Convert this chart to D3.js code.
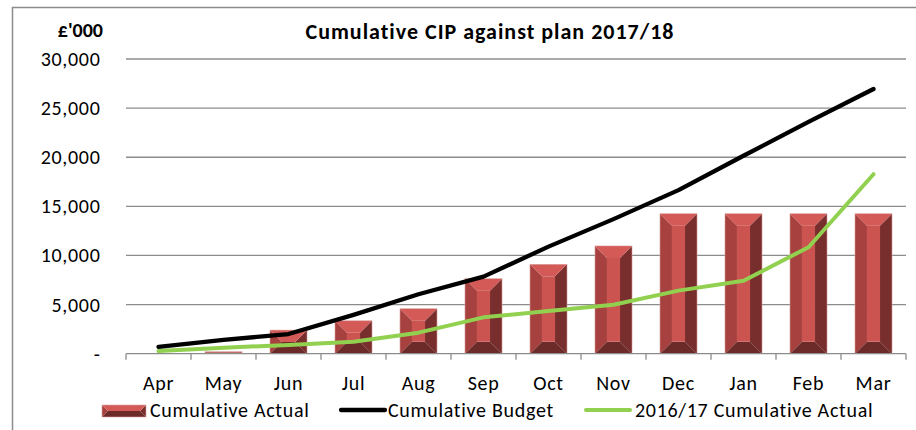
<!DOCTYPE html>
<html>
<head>
<meta charset="utf-8">
<script src="https://cdn.jsdelivr.net/npm/d3@7"></script>
<style>
  html, body { margin: 0; padding: 0; background: #fff; }
  svg { display: block; font-family: Carlito, Lato, "Liberation Sans", sans-serif; }
  .lbl { font-size: 20px; letter-spacing: 0.7px; }
</style>
</head>
<body>
<svg id="chart" width="916" height="430"></svg>
<script>
// Months of the financial year
const months = ["Apr","May","Jun","Jul","Aug","Sep","Oct","Nov","Dec","Jan","Feb","Mar"];
// Cumulative actual CIP delivered (£'000)
const cumulativeActual = [40, 200, 2400, 3350, 4580, 7640, 9100, 10970, 14250, 14250, 14250, 14250];
// Cumulative budget (£'000)
const cumulativeBudget = [700, 1400, 2000, 3950, 6050, 7850, 10900, 13700, 16650, 20150, 23600, 26950];
// Prior year cumulative actual (£'000)
const priorYearActual = [270, 610, 890, 1220, 2140, 3700, 4350, 4980, 6420, 7430, 10840, 18270];
// Value axis ticks
const yTicks = [0, 5000, 10000, 15000, 20000, 25000, 30000];

const svg = d3.select("#chart");

// Outer chart border
svg.append("path")
  .attr("d", "M12.5,440 V7.5 H920")
  .attr("fill", "none").attr("stroke", "#8c8c8c").attr("stroke-width", 1.5);

const x = d3.scaleBand().domain(months).range([126, 906]).paddingInner(0.43).paddingOuter(0.215);
const y = d3.scaleLinear().domain([0, 30000]).range([353.7, 59]);

// Gridlines
svg.append("g").selectAll("line").data(yTicks.filter(d => d > 0)).join("line")
  .attr("x1", 126).attr("x2", 906)
  .attr("y1", d => y(d)).attr("y2", d => y(d))
  .attr("stroke", "#8c8c8c").attr("stroke-width", 1.3);

// Y axis labels
const fmt = d3.format(",");
svg.append("g").selectAll("text").data(yTicks).join("text")
  .attr("class", "lbl")
  .attr("x", 100.5).attr("y", d => y(d))
  .attr("dy", "0.35em")
  .attr("text-anchor", "end")
  .attr("fill", "#000")
  .text(d => d === 0 ? "-" : fmt(d));

// Unit label
svg.append("text").attr("x", 103).attr("y", 30).attr("dy", "0.35em")
  .attr("text-anchor", "end").attr("font-weight", "bold").attr("font-size", 20)
  .text("£'000");

// Title
svg.append("text").attr("x", 490).attr("y", 31).attr("dy", "0.35em")
  .attr("text-anchor", "middle").attr("font-weight", "bold").attr("font-size", 22)
  .attr("letter-spacing", "1px")
  .text("Cumulative CIP against plan 2017/18");

// Bevelled bar drawn as five facets
const facetColors = { top: "#d35a57", left: "#a7413f", right: "#782e2d", bottom: "#6c2a29", face: "#cb5350" };
function bevel(g, x0, y0, w, h, b) {
  const bb = Math.min(b, h / 2, w / 2);
  const x1 = x0 + w, y1 = y0 + h;
  const pts = {
    top: [[x0, y0], [x1, y0], [x1 - bb, y0 + bb], [x0 + bb, y0 + bb]],
    bottom: [[x0, y1], [x1, y1], [x1 - bb, y1 - bb], [x0 + bb, y1 - bb]],
    left: [[x0, y0], [x0 + bb, y0 + bb], [x0 + bb, y1 - bb], [x0, y1]],
    right: [[x1, y0], [x1 - bb, y0 + bb], [x1 - bb, y1 - bb], [x1, y1]]
  };
  ["left", "right", "top", "bottom"].forEach(k => {
    g.append("polygon").attr("points", pts[k].map(p => p.join(",")).join(" ")).attr("fill", facetColors[k]);
  });
  if (w - 2 * bb > 0 && h - 2 * bb > 0) {
    g.append("rect").attr("x", x0 + bb).attr("y", y0 + bb)
      .attr("width", w - 2 * bb).attr("height", h - 2 * bb).attr("fill", facetColors.face);
  }
  g.append("rect").attr("x", x0).attr("y", y0).attr("width", w).attr("height", h)
    .attr("fill", "none").attr("stroke", "#dba3a2").attr("stroke-width", 0.6);
}

const bars = svg.append("g");
months.forEach((m, i) => {
  const v = cumulativeActual[i];
  const g = bars.append("g");
  bevel(g, x(m), y(v), x.bandwidth(), y(0) - y(v), 12);
});

// X axis line and ticks
svg.append("line").attr("x1", 126).attr("x2", 906).attr("y1", y(0)).attr("y2", y(0))
  .attr("stroke", "#8c8c8c").attr("stroke-width", 1.3);
const step = x.step();
svg.append("g").selectAll("line").data(d3.range(months.length + 1)).join("line")
  .attr("x1", i => 126 + i * step).attr("x2", i => 126 + i * step)
  .attr("y1", y(0)).attr("y2", y(0) + 6)
  .attr("stroke", "#8c8c8c").attr("stroke-width", 1.3);

// X labels
svg.append("g").selectAll("text").data(months).join("text")
  .attr("class", "lbl")
  .attr("x", m => x(m) + x.bandwidth() / 2).attr("y", 383).attr("dy", "0.35em")
  .attr("text-anchor", "middle").text(m => m);

// Lines
const cx = (m) => x(m) + x.bandwidth() / 2;
const line = d3.line().x((d, i) => cx(months[i])).y(d => y(d));
svg.append("path").datum(priorYearActual).attr("d", line)
  .attr("fill", "none").attr("stroke", "#92d050").attr("stroke-width", 4)
  .attr("stroke-linejoin", "round").attr("stroke-linecap", "round");
svg.append("path").datum(cumulativeBudget).attr("d", line)
  .attr("fill", "none").attr("stroke", "#000").attr("stroke-width", 4.3)
  .attr("stroke-linejoin", "round").attr("stroke-linecap", "round");

// Legend
const legend = svg.append("g");
bevel(legend.append("g"), 102, 405, 44, 12, 6);
legend.append("text").attr("class", "lbl").attr("x", 150).attr("y", 410).attr("dy", "0.35em").text("Cumulative Actual");
legend.append("line").attr("x1", 341).attr("x2", 385).attr("y1", 410).attr("y2", 410)
  .attr("stroke", "#000").attr("stroke-width", 4.3).attr("stroke-linecap", "round");
legend.append("text").attr("class", "lbl").attr("x", 388).attr("y", 410).attr("dy", "0.35em").text("Cumulative Budget");
legend.append("line").attr("x1", 586).attr("x2", 630).attr("y1", 410).attr("y2", 410)
  .attr("stroke", "#92d050").attr("stroke-width", 4).attr("stroke-linecap", "round");
legend.append("text").attr("class", "lbl").attr("x", 635).attr("y", 410).attr("dy", "0.35em").text("2016/17 Cumulative Actual");
</script>
</body>
</html>
